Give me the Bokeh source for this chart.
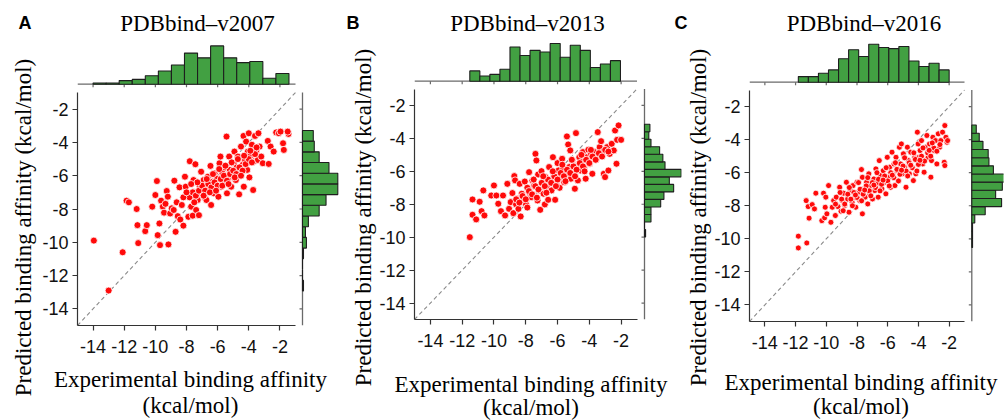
import numpy as np
from bokeh.plotting import figure
from bokeh.models import Range1d, FixedTicker, Label
from bokeh.layouts import row
from bokeh.embed import file_html
from bokeh.resources import INLINE

# ---------------- data ----------------
TICKS = [-14, -12, -10, -8, -6, -4, -2]
TICK_LABELS = ["-14", "-12", "-10", "-8", "-6", "-4", "-2"]
AX_LO, AX_HI = -15, -1
LETTERS = ["A", "B", "C"]
TITLES = ["PDBbind\u2013v2007", "PDBbind\u2013v2013", "PDBbind\u2013v2016"]
XLABEL_1 = "Experimental binding affinity"
XLABEL_2 = "(kcal/mol)"
YLABEL = "Predicted binding affinity (kcal/mol)"

A_exp = [-13.95, -13.0, -12.1, -11.85, -11.7, -11.2, -11.15, -11.1, -10.65, -10.55,
         -10.2, -10.0, -9.9, -9.85, -9.74, -9.7, -9.63, -9.52, -9.44, -9.35,
         -9.27, -9.2, -9.16, -9.05, -8.95, -8.82, -8.78, -8.7, -8.63, -8.56,
         -8.45, -8.4, -8.3, -8.2, -8.1, -8.05, -7.96, -7.88, -7.79, -7.7,
         -7.6, -7.55, -7.5, -7.43, -7.38, -7.28, -7.2, -7.15, -7.06, -7.0,
         -6.9, -6.8, -6.72, -6.68, -6.63, -6.55, -6.46, -6.42, -6.33, -6.25,
         -6.2, -6.12, -6.03, -5.95, -5.88, -5.82, -5.78, -5.7, -5.65, -5.52,
         -5.43, -5.4, -5.33, -5.26, -5.22, -5.13, -5.05, -4.96, -4.92, -4.83,
         -4.77, -4.7, -4.62, -4.58, -4.5, -4.4, -4.34, -4.32, -4.24, -4.17,
         -4.1, -4.06, -4.0, -3.96, -3.9, -3.8, -3.72, -3.68, -3.6, -3.5,
         -3.42, -3.38, -3.31, -3.2, -3.1, -2.78, -2.72, -2.6, -2.4, -2.24,
         -2.07, -1.96, -1.8, -1.75, -1.45, -1.5,
         -7.8, -7.6, -7.4, -7.2, -7.0, -6.8, -6.6, -6.4, -6.2, -6.0,
         -5.8, -5.6, -5.4, -5.2, -5.0, -4.8, -4.6, -4.4, -4.2, -4.0,
         -3.8, -3.6, -6.9, -6.5, -6.1, -5.7, -5.3, -4.9, -4.5, -7.3,
         -6.7, -6.3, -5.9, -5.5, -5.1, -4.7, -4.3, -3.9, -3.5, -8.2,
         -8.0, -7.7, -7.5]
A_pred = [-9.9, -12.9, -10.6, -7.5, -7.6, -8.0, -8.97, -10.05, -9.33, -8.97,
          -7.86, -7.16, -6.32, -9.57, -8.87, -10.17, -7.5, -7.86, -8.22, -7.69,
          -6.92, -7.26, -10.13, -8.27, -7.96, -8.06, -6.3, -9.37, -7.6, -8.43,
          -6.7, -8.63, -7.76, -9.0, -6.06, -6.66, -7.2, -8.47, -5.13, -7.86,
          -8.4, -6.26, -7.0, -5.31, -8.06, -7.46, -8.37, -6.66, -5.76, -7.06,
          -6.26, -7.36, -7.46, -6.56, -6.06, -6.8, -5.41, -7.76, -6.36, -7.06,
          -5.86, -6.62, -6.18, -7.26, -5.25, -4.85, -6.66, -5.82, -6.36, -5.5,
          -3.65, -7.06, -6.16, -4.85, -5.65, -6.66, -5.96, -5.25, -4.55, -6.26,
          -5.5, -4.85, -7.12, -5.82, -4.25, -5.35, -3.61, -6.66, -5.05, -3.95,
          -5.65, -4.55, -3.45, -6.1, -4.8, -4.14, -6.86, -5.15, -3.61, -4.45,
          -5.05, -3.45, -4.25, -4.85, -5.25, -3.91, -5.29, -4.25, -4.55, -3.4,
          -3.45, -3.35, -4.05, -4.45, -3.49, -3.35,
          -7.3, -7.0, -7.2, -6.9, -6.6, -6.9, -6.5, -6.7, -6.4, -6.6,
          -6.2, -6.0, -6.3, -5.9, -5.7, -5.9, -5.5, -5.7, -5.3, -5.0,
          -5.2, -4.7, -7.2, -7.0, -6.9, -6.6, -6.5, -6.1, -6.0, -6.4,
          -6.2, -5.9, -5.6, -5.4, -5.2, -5.0, -4.8, -4.5, -4.3, -7.3,
          -7.0, -6.5, -7.6]
A_top_counts = [1, 1, 3, 4, 7, 11, 16, 26, 22, 32, 22, 18, 19, 5, 9]
A_top_lim = (-14.0, -1.42)
A_right_counts = [1, 0, 0, 1, 4, 3, 6, 17, 24, 36, 36, 27, 17, 12, 11]
A_right_lim = (-12.92, -3.28)

B_exp = [-11.52, -11.35, -11.35, -11.12, -10.9, -10.78, -10.67, -10.6, -10.17, -10.0,
         -9.85, -9.73, -9.56, -9.43, -9.3, -9.16, -9.05, -8.95, -8.84, -8.78,
         -8.72, -8.67, -8.61, -8.53, -8.46, -8.38, -8.32, -8.25, -8.15, -8.06,
         -7.98, -7.9, -7.79, -7.73, -7.66, -7.58, -7.47, -7.39, -7.33, -7.26,
         -7.22, -7.14, -7.09, -7.01, -6.95, -6.88, -6.8, -6.76, -6.67, -6.59,
         -6.53, -6.46, -6.38, -6.29, -6.21, -6.15, -6.08, -6.0, -5.94, -5.87,
         -5.79, -5.71, -5.64, -5.58, -5.5, -5.41, -5.33, -5.26, -5.2, -5.16,
         -5.07, -4.99, -4.91, -4.84, -4.78, -4.72, -4.63, -4.57, -4.48, -4.4,
         -4.32, -4.23, -4.15, -4.06, -3.98, -3.89, -3.81, -3.68, -3.58, -3.47,
         -3.35, -3.26, -3.16, -3.09, -3.01, -2.88, -2.8, -2.72, -2.59, -2.46,
         -2.38, -2.29, -2.25, -2.16, -2.0,
         -8.6, -8.4, -8.2, -8.0, -7.8, -7.6, -7.4, -7.2, -7.0, -6.8,
         -6.6, -6.4, -6.2, -6.0, -5.8, -5.6, -5.4, -5.2, -5.0, -4.8,
         -4.6, -4.4, -4.2, -4.0, -3.8, -3.6, -3.4, -3.2, -3.0, -2.8,
         -7.5, -6.9, -6.3, -5.7, -5.1, -4.5, -3.9, -7.9, -7.3, -6.7,
         -6.1, -5.5, -4.9, -4.3]
B_pred = [-10.0, -7.71, -8.64, -8.92, -7.85, -8.42, -7.16, -8.68, -7.47, -6.86,
          -7.47, -7.97, -8.42, -7.47, -8.68, -6.76, -8.28, -7.87, -7.32, -8.54,
          -6.29, -6.55, -8.01, -7.67, -8.28, -6.76, -8.74, -7.36, -7.77, -6.62,
          -8.01, -7.0, -6.05, -7.36, -7.57, -6.55, -6.86, -4.94, -5.34, -7.77,
          -6.19, -7.16, -8.34, -5.99, -6.72, -7.36, -8.01, -6.35, -7.0, -7.73,
          -5.74, -6.55, -7.16, -5.14, -6.25, -7.73, -6.76, -5.5, -5.95, -7.0,
          -6.35, -5.24, -5.85, -6.66, -6.15, -3.88, -4.37, -5.74, -4.73, -6.45,
          -5.34, -6.15, -7.06, -3.68, -5.64, -6.55, -5.14, -5.95, -5.44, -4.83,
          -5.74, -6.45, -5.14, -4.69, -5.54, -4.94, -6.15, -4.83, -5.3, -3.62,
          -4.53, -4.17, -4.83, -6.15, -6.35, -4.53, -5.95, -4.94, -4.33, -4.73,
          -3.52, -5.54, -4.09, -3.21, -4.09,
          -7.7, -7.9, -7.5, -7.7, -7.2, -7.4, -6.9, -7.1, -6.7, -6.9,
          -6.5, -6.7, -6.3, -6.5, -6.1, -6.3, -5.9, -6.1, -5.7, -5.9,
          -5.5, -5.7, -5.3, -5.5, -5.1, -5.3, -4.9, -5.1, -4.7, -4.8,
          -6.5, -6.3, -6.0, -5.6, -5.3, -5.0, -4.7, -8.2, -7.6, -7.3,
          -6.9, -6.6, -6.3, -6.0]
B_top_counts = [6, 3, 4, 7, 20, 15, 18, 17, 22, 14, 21, 18, 8, 10, 12]
B_top_lim = (-11.52, -2.04)
B_right_counts = [1, 0, 6, 6, 15, 18, 27, 23, 34, 19, 17, 14, 6, 4, 5]
B_right_lim = (-9.99, -3.14)

C_exp = [-11.82, -11.82, -11.31, -11.27, -11.18, -11.12, -10.92, -10.77, -10.68, -10.29,
         -10.18, -10.11, -10.07, -10.03, -9.96, -9.85, -9.7, -9.61, -9.52, -9.41,
         -9.35, -9.24, -9.13, -9.04, -8.96, -8.87, -8.8, -8.69, -8.61, -8.52,
         -8.43, -8.32, -8.26, -8.17, -8.08, -8.0, -7.91, -7.82, -7.71, -7.65,
         -7.65, -7.56, -7.47, -7.38, -7.3, -7.23, -7.17, -7.08, -6.99, -6.9,
         -6.84, -6.77, -6.69, -6.62, -6.55, -6.47, -6.38, -6.29, -6.2, -6.12,
         -6.03, -5.94, -5.88, -5.81, -5.72, -5.66, -5.59, -5.53, -5.46, -5.38,
         -5.31, -5.24, -5.16, -5.11, -5.05, -4.98, -4.9, -4.81, -4.72, -4.66,
         -4.59, -4.5, -4.41, -4.33, -4.24, -4.17, -4.07, -4.02, -3.96, -3.89,
         -3.8, -3.72, -3.63, -3.54, -3.45, -3.37, -3.28, -3.19, -3.15, -3.06,
         -2.97, -2.89, -2.8, -2.71, -2.62, -2.54, -2.43, -2.32, -2.28, -2.28,
         -2.21, -2.14, -2.1,
         -9.4, -9.0, -8.8, -8.6, -8.4, -8.2, -8.0, -7.8, -7.6, -7.4,
         -7.2, -7.0, -6.8, -6.6, -6.4, -6.2, -6.0, -5.8, -5.6, -5.4,
         -5.2, -5.0, -4.8, -4.6, -4.4, -4.2, -4.0, -3.8, -3.6, -3.4,
         -3.2, -3.0, -2.8, -2.6, -8.9, -8.3, -7.7, -7.1, -6.5, -5.9,
         -5.3, -4.7, -4.1, -9.1, -8.5, -7.9, -7.3, -6.7, -6.1, -5.5,
         -4.9, -4.3, -3.7, -3.1, -6.9, -6.3, -5.7, -5.1, -4.5, -3.9,
         -3.3, -7.5, -8.1]
C_pred = [-9.84, -10.55, -7.69, -10.25, -8.05, -8.75, -7.93, -8.19, -7.24, -8.9,
          -7.24, -8.73, -8.09, -7.48, -8.49, -6.78, -9.0, -8.09, -7.69, -8.59,
          -7.48, -8.05, -6.88, -8.33, -7.69, -7.24, -7.99, -6.58, -7.59, -8.39,
          -7.08, -7.79, -6.78, -7.48, -8.09, -6.58, -7.18, -7.69, -5.81, -6.28,
          -8.49, -6.98, -7.48, -6.58, -7.89, -6.07, -7.28, -6.78, -7.59, -6.38,
          -7.08, -5.77, -6.64, -7.48, -5.27, -6.18, -6.98, -5.88, -6.58, -7.28,
          -5.07, -6.28, -5.67, -6.88, -4.76, -6.07, -5.47, -6.78, -5.07, -5.88,
          -6.48, -4.46, -5.47, -4.26, -6.07, -4.86, -5.67, -6.88, -4.46, -5.27,
          -6.07, -4.76, -5.67, -6.48, -5.07, -6.07, -3.55, -4.26, -5.07, -4.66,
          -4.06, -5.47, -5.97, -4.46, -3.75, -5.07, -4.26, -6.27, -5.27, -3.86,
          -4.66, -4.06, -5.47, -3.65, -4.46, -4.06, -3.55, -5.37, -5.57, -3.15,
          -3.86, -4.16, -4.06,
          -7.9, -7.6, -7.9, -7.3, -7.6, -7.2, -7.5, -7.0, -7.3, -6.8,
          -7.1, -6.6, -6.9, -6.4, -6.7, -6.2, -6.5, -6.0, -6.3, -5.8,
          -6.1, -5.6, -5.9, -5.4, -5.7, -5.2, -5.5, -5.0, -5.3, -4.8,
          -5.0, -4.5, -4.7, -4.3, -8.3, -8.0, -7.7, -7.4, -7.1, -6.8,
          -6.5, -6.2, -5.9, -7.2, -6.9, -6.6, -6.3, -6.0, -5.7, -5.4,
          -5.1, -4.8, -4.5, -4.2, -6.75, -6.45, -6.15, -5.85, -5.55, -5.25,
          -4.65, -7.05, -7.35]
C_top_counts = [5, 5, 8, 11, 21, 29, 23, 34, 31, 30, 32, 19, 14, 17, 11]
C_top_lim = (-11.82, -2.0)
C_right_counts = [1, 1, 1, 4, 18, 40, 32, 41, 47, 29, 23, 22, 15, 10, 6]
C_right_lim = (-10.52, -3.12)

# ---------------- layout (page pixel positions) & styles ----------------
PAGE_W, PAGE_H = 1004, 420
LAYOUTS = [
    dict(fig_l=0, fig_r=341, frame_l=77, frame_r=340, frame_t=40, sc_r=295, sc_t=92, sc_b=325,
         top_base=83.7, top_h=38.3, rh_x=302, rh_w=35.3, letter=(18, 28), title=(197, 29),
         ylab=(29, 227), xlab1=(190, 385), xlab2=(190, 411), dot=7, overlap=0),
    dict(fig_l=341, fig_r=682, frame_l=414, frame_r=681, frame_t=40, sc_r=636.5, sc_t=88.5, sc_b=319,
         top_base=80.7, top_h=37.7, rh_x=644, rh_w=36.7, letter=(346, 28), title=(527, 29),
         ylab=(369, 217), xlab1=(530.5, 390), xlab2=(530.5, 413), dot=7, overlap=0),
    dict(fig_l=671, fig_r=1004, frame_l=749, frame_r=1003, frame_t=40, sc_r=964, sc_t=89.5, sc_b=321,
         top_base=81.7, top_h=38, rh_x=971.3, rh_w=35, letter=(674, 28), title=(863.5, 29),
         ylab=(704, 217), xlab1=(860.5, 388), xlab2=(860.5, 412), dot=6, overlap=11),
]
BASELINE_FIX = 6   # rendered alphabetic baseline sits this many px lower than asked
SANS = "Liberation Sans"
SERIF = "Liberation Serif"
GREEN = "#42a042"
EDGE = "#1e1e1e"
RED = "#ff0a0a"
AXIS_COLOR = "#333333"
HIST_AXIS_COLOR = "#6a6a6a"
HIST_TICK = 3

DATA = [
    (A_exp, A_pred, A_top_counts, A_top_lim, A_right_counts, A_right_lim),
    (B_exp, B_pred, B_top_counts, B_top_lim, B_right_counts, B_right_lim),
    (C_exp, C_pred, C_top_counts, C_top_lim, C_right_counts, C_right_lim),
]


def make_panel(i):
    L = LAYOUTS[i]
    exp, pred, tc, tlim, rc, rlim = DATA[i]
    fl, fr, ft, fb = L["frame_l"], L["frame_r"], L["frame_t"], L["sc_b"]
    span = AX_HI - AX_LO
    sx = (L["sc_r"] - fl) / span
    sy = (fb - L["sc_t"]) / span
    p = figure(width=L["fig_r"] - L["fig_l"], height=PAGE_H,
               output_backend="svg", toolbar_location=None, title=None,
               x_range=Range1d(AX_LO, AX_LO + (fr - fl) / sx),
               y_range=Range1d(AX_LO, AX_LO + (fb - ft) / sy),
               min_border_left=fl - L["fig_l"], min_border_right=L["fig_r"] - fr,
               min_border_top=ft, min_border_bottom=PAGE_H - fb,
               margin=(0, 0, 0, -L["overlap"]), frame_align=False)
    st = L["top_h"] / max(tc)
    sr = L["rh_w"] / max(rc)
    p.extra_y_ranges = {"ht": Range1d(-(fb - L["top_base"]) / st, (L["top_base"] - ft) / st)}
    p.extra_x_ranges = {"hr": Range1d(-(L["rh_x"] - fl) / sr, (fr - L["rh_x"]) / sr)}
    p.background_fill_color = None
    p.border_fill_color = None
    p.outline_line_color = None
    p.xgrid.visible = False
    p.ygrid.visible = False

    for ax in (p.xaxis[0], p.yaxis[0]):
        ax.ticker = FixedTicker(ticks=TICKS)
        ax.major_label_overrides = {t: s for t, s in zip(TICKS, TICK_LABELS)}
        ax.bounds = (AX_LO, AX_HI)
        ax.major_tick_out = 5
        ax.major_tick_in = 0
        ax.minor_tick_out = 0
        ax.minor_tick_in = 0
        ax.axis_line_color = AXIS_COLOR
        ax.axis_line_width = 1.2
        ax.major_tick_line_color = AXIS_COLOR
        ax.major_tick_line_width = 1.2
        ax.major_label_text_font = SANS
        ax.major_label_text_font_size = "18px"
        ax.major_label_text_color = "#111111"
    p.xaxis[0].major_label_standoff = 9
    p.yaxis[0].major_label_standoff = 4

    # identity diagonal
    p.line([AX_LO, AX_HI], [AX_LO, AX_HI], line_color="#8a8a8a", line_width=1.1, line_dash="4 3")

    # top histogram: baseline, ticks, bars
    p.segment(x0=[AX_LO], y0=[0], x1=[AX_HI], y1=[0], y_range_name="ht",
              line_color=HIST_AXIS_COLOR, line_width=1.3)
    p.segment(x0=TICKS, y0=[0] * len(TICKS), x1=TICKS, y1=[-HIST_TICK / st] * len(TICKS),
              y_range_name="ht", line_color=HIST_AXIS_COLOR, line_width=1.2)
    te = np.linspace(tlim[0], tlim[1], len(tc) + 1)
    p.quad(left=te[:-1], right=te[1:], bottom=0, top=tc, y_range_name="ht",
           fill_color=GREEN, line_color=EDGE, line_width=1.1)

    # right histogram: axis, ticks, bars
    p.segment(x0=[0], y0=[AX_LO], x1=[0], y1=[AX_HI], x_range_name="hr",
              line_color=HIST_AXIS_COLOR, line_width=1.3)
    p.segment(x0=[0] * len(TICKS), y0=TICKS, x1=[-HIST_TICK / sr] * len(TICKS), y1=TICKS,
              x_range_name="hr", line_color=HIST_AXIS_COLOR, line_width=1.2)
    re_ = np.linspace(rlim[0], rlim[1], len(rc) + 1)
    p.quad(left=0, right=rc, bottom=re_[:-1], top=re_[1:], x_range_name="hr",
           fill_color=GREEN, line_color=EDGE, line_width=1.1)

    # scatter
    p.scatter(exp, pred, size=L["dot"], fill_color=RED, line_color="white", line_width=0.8)
    return p


def make_text_layer():
    # transparent full-page layer holding every text, positioned in page pixels
    t = figure(width=PAGE_W, height=PAGE_H, output_backend="svg", toolbar_location=None,
               title=None, x_range=Range1d(0, PAGE_W), y_range=Range1d(PAGE_H, 0),
               x_axis_location=None, y_axis_location=None, min_border=0,
               margin=(0, 0, 0, -PAGE_W), frame_align=False)
    t.background_fill_color = None
    t.border_fill_color = None
    t.outline_line_color = None
    t.xgrid.visible = False
    t.ygrid.visible = False

    def lab(text, xy, rotated=False, **k):
        x, y = xy
        if rotated:
            x -= BASELINE_FIX
        else:
            y -= BASELINE_FIX
        t.add_layout(Label(x=x, y=y, text=text, text_color="#000000",
                           text_baseline="alphabetic", **k))

    for i, L in enumerate(LAYOUTS):
        lab(LETTERS[i], L["letter"], text_font=SANS, text_font_style="bold",
            text_font_size="18px", text_align="left")
        lab(TITLES[i], L["title"], text_font=SERIF, text_font_size="23px", text_align="center")
        lab(YLABEL, L["ylab"], rotated=True, text_font=SERIF, text_font_size="23px",
            text_align="center", angle=np.pi / 2)
        lab(XLABEL_1, L["xlab1"], text_font=SERIF, text_font_size="23px", text_align="center")
        lab(XLABEL_2, L["xlab2"], text_font=SERIF, text_font_size="23px", text_align="center")
    return t


panels = [make_panel(i) for i in range(3)]
layout = row(*panels, make_text_layer())

open("out.html", "w", encoding="utf-8").write(file_html(layout, INLINE))
